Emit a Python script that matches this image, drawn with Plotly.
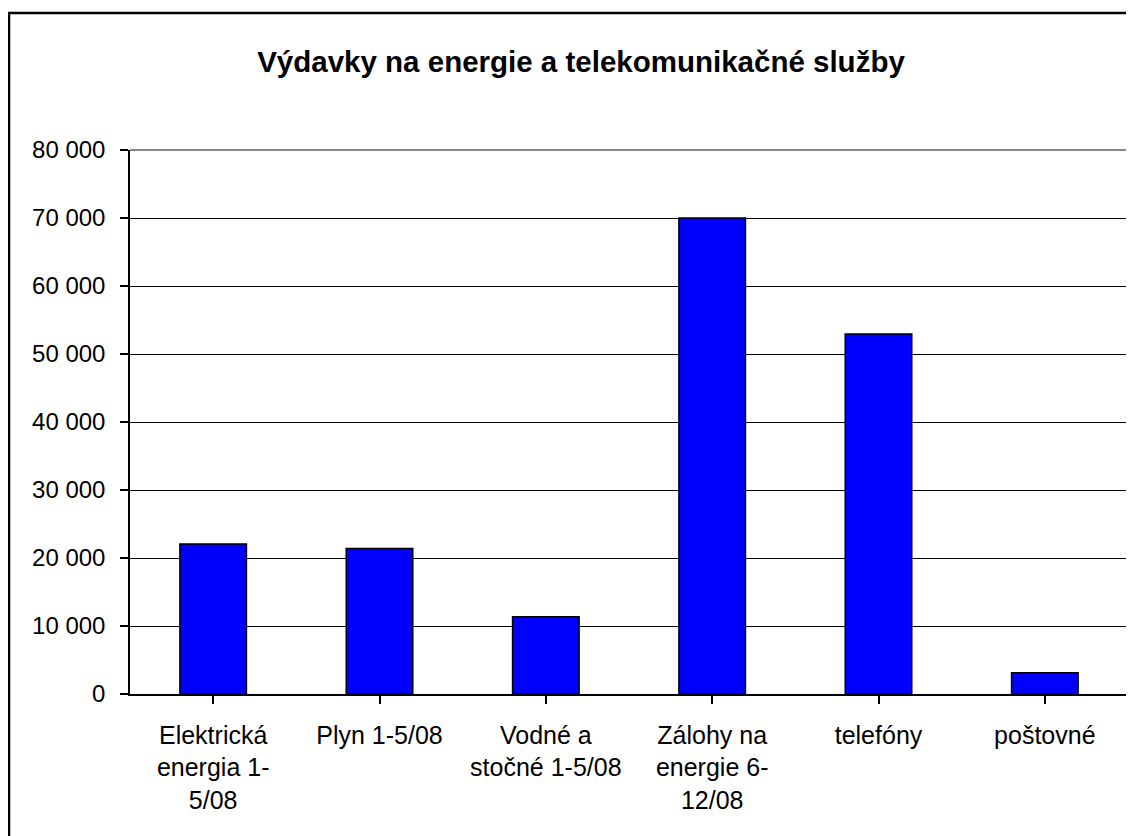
import plotly.graph_objects as go

categories = ["Elektrická<br>energia 1-<br>5/08", "Plyn 1-5/08", "Vodné a<br>stočné 1-5/08",
              "Zálohy na<br>energie 6-<br>12/08", "telefóny", "poštovné"]
values = [22060, 21380, 11370, 70000, 52940, 3130]
y_ticks = [0, 10000, 20000, 30000, 40000, 50000, 60000, 70000, 80000]
y_tick_labels = ["0", "10 000", "20 000", "30 000", "40 000", "50 000", "60 000", "70 000", "80 000"]
title = "Výdavky na energie a telekomunikačné služby"

fig = go.Figure()
fig.add_trace(go.Bar(
    x=list(range(len(categories))), y=values,
    marker=dict(color="#0000FF", line=dict(color="black", width=1.5)),
    width=0.4,
))

OFF = 8  # page body margin
W, H = 1134 - OFF, 836 - OFF
L, T = 130 - OFF, 150 - OFF
R = W - (1128 - OFF)
B = H - (694 - OFF)
pw, ph = W - L - R, H - T - B

fig.update_layout(
    width=W, height=H,
    margin=dict(l=L, r=R, t=T, b=B, pad=0),
    paper_bgcolor="white", plot_bgcolor="white",
    font=dict(family="Liberation Sans, Arial, sans-serif", size=24, color="black"),
    title=dict(text="<b>" + title + "</b>", x=(581 - OFF) / W, xanchor="center", y=(H - (62 - OFF)) / H, yanchor="middle",
               font=dict(size=29.5, family="Liberation Sans, Arial, sans-serif")),
    showlegend=False,
    bargap=0.6,
    xaxis=dict(
        tickmode="array", tickvals=list(range(len(categories))), ticktext=categories,
        range=[-0.5, len(categories) - 0.5],
        tickson="boundaries", ticks="outside", ticklen=8, tickcolor="black", tickwidth=1.5,
        showline=True, linecolor="black", linewidth=1.5, showgrid=False, zeroline=False,
        tickangle=0, tickfont=dict(size=25), ticklabelstandoff=10,
    ),
    yaxis=dict(
        range=[0, 80000], tickvals=y_ticks, ticktext=y_tick_labels,
        ticks="outside", ticklen=8, tickcolor="black", tickwidth=1.5,
        showline=True, linecolor="black", linewidth=1.5,
        showgrid=True, gridcolor="black", gridwidth=1, zeroline=False,
        ticklabelstandoff=10,
    ),
    shapes=[
        dict(type="line", xref="paper", yref="paper", x0=0, x1=1, y0=1, y1=1,
             line=dict(color="#888888", width=2), layer="above"),
        dict(type="line", xref="paper", yref="paper", x0=1, x1=1, y0=0, y1=1,
             line=dict(color="#888888", width=2), layer="above"),
        dict(type="rect", xref="paper", yref="paper",
             x0=(9 - 130) / pw, x1=(1150 - 130) / pw, y0=(694 - 850) / ph, y1=(694 - 13) / ph,
             line=dict(color="black", width=2.5), fillcolor="rgba(0,0,0,0)", layer="above"),
    ],
)

fig.write_html("out.html")
